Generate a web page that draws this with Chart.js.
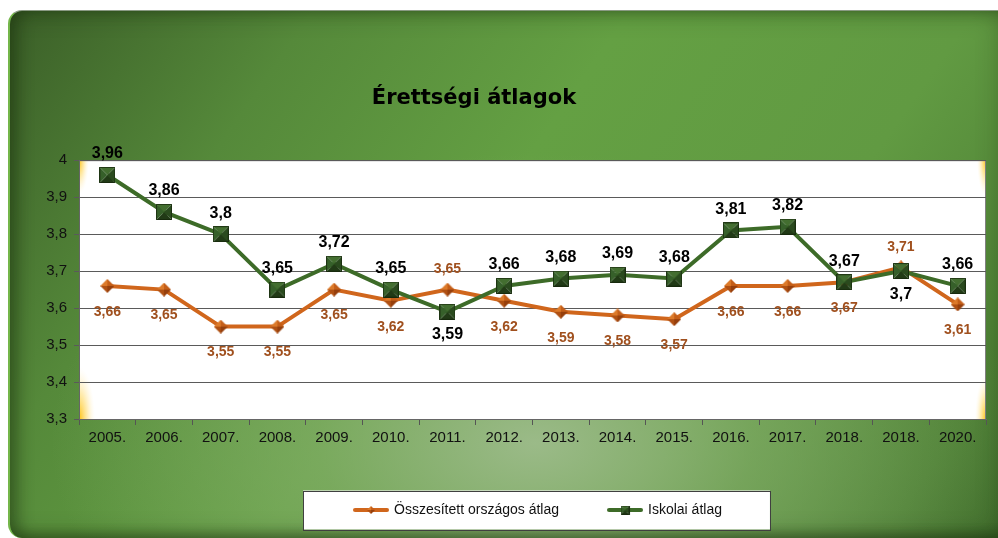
<!DOCTYPE html>
<html>
<head>
<meta charset="utf-8">
<script src="https://cdn.jsdelivr.net/npm/chart.js@4"></script>
<style>
  html, body { margin:0; padding:0; width:998px; height:538px; overflow:hidden; background:#ffffff; }
  .card {
    position:absolute; left:8px; top:10px; width:1010px; height:527px;
    border-radius:14px 0 0 14px;
    border-top:1px solid #8a9a84; border-left:2px solid #74b64a;
    background:
      radial-gradient(ellipse 48% 55% at 52% 82%, rgba(158,188,140,0.95) 0%, rgba(135,176,110,0.6) 45%, rgba(110,160,80,0) 100%),
      linear-gradient(125deg, #3b5f28 0%, #55893a 22%, #64a043 45%, #619a42 70%, #4d7f34 90%, #3f6a2b 100%);
    box-shadow: inset 10px 0 14px rgba(20,40,10,0.35), inset -18px 0 24px rgba(20,40,10,0.35), inset 0 -6px 10px rgba(20,40,10,0.2);
  }
  #c { position:absolute; left:-50px; top:0; }
</style>
</head>
<body>
<div class="card"></div>
<canvas id="c" width="1048" height="538"></canvas>
<script>
const years = ["2005.","2006.","2007.","2008.","2009.","2010.","2011.","2012.","2013.","2014.","2015.","2016.","2017.","2018.","2018.","2020."];
const orszagos = [3.66,3.65,3.55,3.55,3.65,3.62,3.65,3.62,3.59,3.58,3.57,3.66,3.66,3.67,3.71,3.61];
const iskolai  = [3.96,3.86,3.80,3.65,3.72,3.65,3.59,3.66,3.68,3.69,3.68,3.81,3.82,3.67,3.70,3.66];
const seriesNames = ["Összesített országos átlag","Iskolai átlag"];
const yTicks = [3.3,3.4,3.5,3.6,3.7,3.8,3.9,4];
const chartTitle = "Érettségi átlagok";

const ORANGE = '#d0661c', GREEN = '#3d6b28';
const FONT = '"Liberation Sans", Arial, sans-serif';

function tri(g, pts, col) {
  g.beginPath(); g.moveTo(pts[0],pts[1]); g.lineTo(pts[2],pts[3]); g.lineTo(pts[4],pts[5]); g.closePath();
  g.fillStyle = col; g.fill();
}
function squareMarker(s, cols) {
  const c = document.createElement('canvas'); c.width = s; c.height = s;
  const g = c.getContext('2d'); const h = s/2;
  tri(g,[0,0,s,0,h,h],cols[0]); tri(g,[s,0,s,s,h,h],cols[1]);
  tri(g,[s,s,0,s,h,h],cols[2]); tri(g,[0,s,0,0,h,h],cols[3]);
  g.strokeStyle = 'rgba(20,35,10,0.7)'; g.lineWidth = 1; g.strokeRect(0.5,0.5,s-1,s-1);
  return c;
}
function diamondMarker(s, cols) {
  const c = document.createElement('canvas'); c.width = s; c.height = s;
  const g = c.getContext('2d'); const h = s/2;
  tri(g,[0,h,h,0,h,h],cols[0]); tri(g,[h,0,s,h,h,h],cols[1]);
  tri(g,[s,h,h,s,h,h],cols[2]); tri(g,[h,s,0,h,h,h],cols[3]);
  return c;
}
function legendImg(color, marker) {
  const c = document.createElement('canvas'); c.width = 36; c.height = 12;
  const g = c.getContext('2d');
  g.strokeStyle = color; g.lineWidth = 4; g.lineCap = 'round';
  g.beginPath(); g.moveTo(2,6); g.lineTo(34,6); g.stroke();
  g.drawImage(marker, 18 - marker.width/2, 6 - marker.height/2);
  return c;
}
const orangeCols = ['#dc7a2a','#c45e18','#963f0c','#b05012'];
const greenCols = ['#436e30','#2a4a1e','#213a16','#36602a'];
const orangeMk = diamondMarker(14, orangeCols);
const greenMk = squareMarker(16, greenCols);
const legendImgs = [legendImg(ORANGE, diamondMarker(8, orangeCols)), legendImg(GREEN, squareMarker(9, greenCols))];

const fmt = v => String(Math.round(v*100)/100).replace('.', ',');

const legendShift = {
  id: 'legendShift',
  afterLayout(chart) {
    const lg = chart.legend;
    if (lg) { lg.left += 6; lg.right += 6; }
  }
};

const plotBg = {
  id: 'plotBg',
  beforeDraw(chart) {
    const {ctx, chartArea: a} = chart;
    ctx.save();
    ctx.fillStyle = '#ffffff';
    ctx.fillRect(a.left, a.top, a.right - a.left, a.bottom - a.top);
    ctx.beginPath(); ctx.rect(a.left, a.top, a.right - a.left, a.bottom - a.top); ctx.clip();
    const glows = [[a.left, a.top, 10, 34],[a.left, a.bottom, 16, 52],[a.right, a.top, 9, 36],[a.right, a.bottom, 11, 44]];
    glows.forEach(([x,y,rx,ry]) => {
      ctx.save(); ctx.translate(x,y); ctx.scale(rx/ry, 1);
      const gr = ctx.createRadialGradient(0,0,0,0,0,ry);
      gr.addColorStop(0,'rgba(255,190,0,0.95)');
      gr.addColorStop(0.5,'rgba(255,215,90,0.5)');
      gr.addColorStop(1,'rgba(255,240,200,0)');
      ctx.fillStyle = gr; ctx.fillRect(-ry,-ry,2*ry,2*ry);
      ctx.restore();
    });
    ctx.restore();
    ctx.save();
    ctx.strokeStyle = '#808080'; ctx.lineWidth = 1;
    ctx.strokeRect(a.left + 0.5, a.top + 0.5, a.right - a.left - 1, a.bottom - a.top);
    ctx.restore();
    // legend frame
    const lg = chart.legend;
    if (lg && lg.legendHitBoxes && lg.legendHitBoxes.length) {
      const hb = lg.legendHitBoxes;
      const l = Math.min(...hb.map(b => b.left)) - 52;
      const r = Math.max(...hb.map(b => b.left + b.width)) + 48;
      const cy = hb[0].top + hb[0].height/2;
      ctx.save();
      ctx.fillStyle = '#ffffff'; ctx.strokeStyle = '#404040'; ctx.lineWidth = 1;
      ctx.fillRect(l, cy - 19.5, r - l, 39);
      ctx.strokeRect(Math.round(l)+0.5, Math.round(cy - 19.5)+0.5, Math.round(r - l), 39);
      ctx.restore();
    }
  }
};

const valueLabels = {
  id: 'valueLabels',
  afterDatasetsDraw(chart) {
    const ctx = chart.ctx;
    const ds = chart.data.datasets;
    ctx.save();
    ctx.textAlign = 'center'; ctx.textBaseline = 'middle';
    ds.forEach((d, i) => {
      const meta = chart.getDatasetMeta(i);
      const other = ds[1 - i].data;
      const isGreen = i === 1;
      ctx.font = isGreen ? 'bold 16px ' + FONT : 'bold 14px ' + FONT;
      ctx.fillStyle = isGreen ? '#000000' : '#a0501e';
      meta.data.forEach((pt, j) => {
        const v = d.data[j], o = other[j];
        const above = isGreen ? v >= o : v > o;
        const off = above ? (isGreen ? -21 : -20) : (isGreen ? 23 : 26);
        ctx.fillText(fmt(v), pt.x, pt.y + off);
      });
    });
    ctx.restore();
  }
};

new Chart(document.getElementById('c'), {
  type: 'line',
  data: {
    labels: years,
    datasets: [
      { label: seriesNames[0], data: orszagos, borderColor: ORANGE, backgroundColor: ORANGE, borderWidth: 4,
        pointStyle: orangeMk, pointRadius: 7, pointHoverRadius: 7, tension: 0, order: 1 },
      { label: seriesNames[1], data: iskolai, borderColor: GREEN, backgroundColor: GREEN, borderWidth: 4,
        pointStyle: greenMk, pointRadius: 8, pointHoverRadius: 8, tension: 0, order: 0 }
    ]
  },
  options: {
    responsive: false,
    animation: false,
    devicePixelRatio: 1,
    layout: { padding: { left: 7, right: 7, top: 0, bottom: 11 } },
    scales: {
      x: {
        offset: true,
        grid: { offset: true, drawOnChartArea: false, drawTicks: true, tickLength: 6, color: '#555555' },
        border: { color: '#666666' },
        ticks: { color: '#111111', font: { family: FONT, size: 15 }, padding: 4, maxRotation: 0, autoSkip: false },
        afterFit(s) { s.height = 34; }
      },
      y: {
        min: 3.3, max: 4,
        afterBuildTicks(s) { s.ticks = yTicks.map(v => ({ value: v })); },
        grid: { color: '#5a5a5a', tickLength: 5, drawTicks: true },
        border: { color: '#666666' },
        ticks: { color: '#111111', font: { family: FONT, size: 15 }, padding: 7, callback: v => fmt(v) },
        afterFit(s) { s.width = 122; }
      }
    },
    plugins: {
      title: {
        display: true, text: chartTitle, color: '#000000',
        font: { family: '"Comic Sans MS", "DejaVu Sans", sans-serif', size: 21, weight: 'bold' },
        padding: { top: 86, bottom: 49 }
      },
      legend: {
        position: 'bottom', fullSize: false,
        labels: {
          usePointStyle: true, pointStyleWidth: 32, padding: 50,
          color: '#111111', font: { family: FONT, size: 14 },
          sort: (a, b) => a.datasetIndex - b.datasetIndex,
          generateLabels(chart) {
            const items = Chart.defaults.plugins.legend.labels.generateLabels(chart);
            items.forEach(it => { it.pointStyle = legendImgs[it.datasetIndex]; });
            return items;
          }
        }
      },
      tooltip: { enabled: false }
    }
  },
  plugins: [legendShift, plotBg, valueLabels]
});
</script>
</body>
</html>
